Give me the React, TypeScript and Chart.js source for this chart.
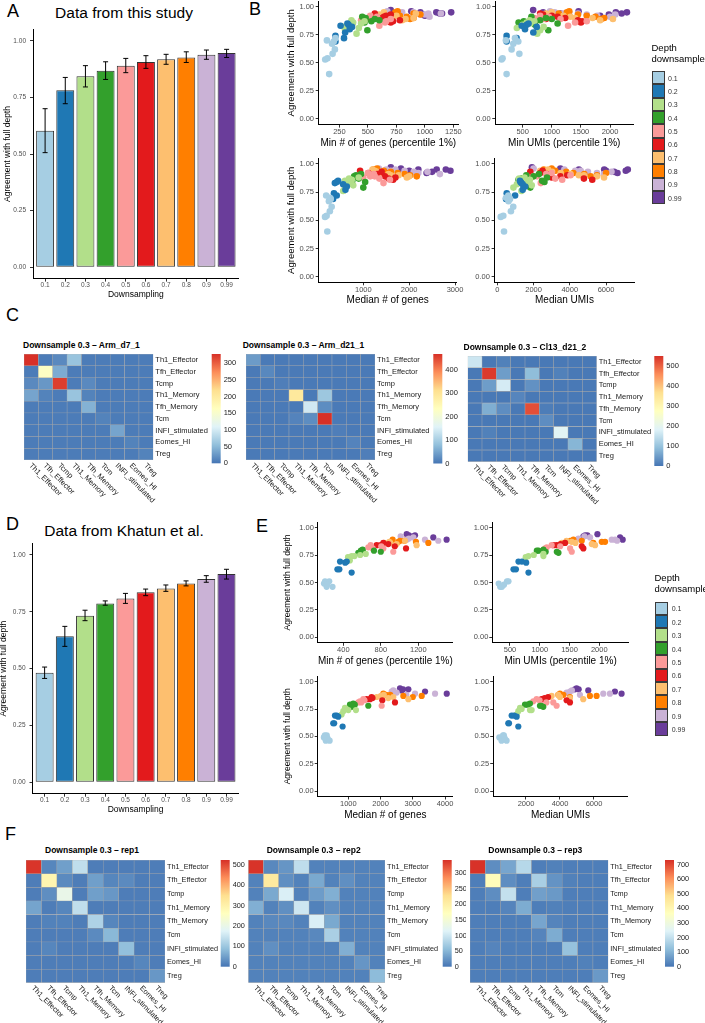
import React, { useEffect, useRef } from 'react';
import { Chart, registerables } from 'chart.js';
Chart.register(...registerables);

const FONT = '"Liberation Sans", Arial, Helvetica, sans-serif';
Chart.defaults.font.family = FONT;

// ---------------- data ----------------
const depthLabels = ['0.1', '0.2', '0.3', '0.4', '0.5', '0.6', '0.7', '0.8', '0.9', '0.99'];
const depthColors = ['#A6CEE3', '#1F78B4', '#B2DF8A', '#33A02C', '#FB9A99', '#E31A1C', '#FDBF6F', '#FF7F00', '#CAB2D6', '#6A3D9A'];
const yTicks = [0, 0.25, 0.5, 0.75, 1];

const studyMean = [0.603, 0.781, 0.843, 0.868, 0.890, 0.906, 0.918, 0.926, 0.938, 0.946];
const studyLow = [0.506, 0.722, 0.796, 0.829, 0.859, 0.878, 0.896, 0.904, 0.918, 0.926];
const studyHigh = [0.700, 0.838, 0.890, 0.907, 0.922, 0.934, 0.940, 0.951, 0.959, 0.962];

const khatunMean = [0.482, 0.642, 0.733, 0.787, 0.808, 0.836, 0.853, 0.875, 0.894, 0.916];
const khatunLow = [0.457, 0.598, 0.711, 0.779, 0.787, 0.821, 0.840, 0.864, 0.880, 0.894];
const khatunHigh = [0.507, 0.686, 0.757, 0.798, 0.831, 0.850, 0.868, 0.886, 0.909, 0.937];

// Panel B (this study): agreement per sample and its four depth metrics
const bAgree = [
  [0.40, 0.53, 0.54, 0.58, 0.62, 0.67, 0.69, 0.70, 0.72],
  [0.69, 0.72, 0.74, 0.77, 0.80, 0.83, 0.84, 0.85, 0.82],
  [0.76, 0.79, 0.82, 0.84, 0.86, 0.88, 0.81, 0.85, 0.87],
  [0.79, 0.85, 0.86, 0.87, 0.88, 0.90, 0.91, 0.84, 0.89],
  [0.83, 0.86, 0.88, 0.89, 0.90, 0.91, 0.92, 0.87, 0.89],
  [0.86, 0.87, 0.89, 0.90, 0.91, 0.92, 0.93, 0.88, 0.94],
  [0.88, 0.89, 0.90, 0.91, 0.92, 0.93, 0.94, 0.95, 0.90],
  [0.89, 0.90, 0.91, 0.92, 0.93, 0.94, 0.95, 0.96, 0.92],
  [0.91, 0.92, 0.93, 0.94, 0.95, 0.96, 0.95, 0.93, 0.94],
  [0.92, 0.93, 0.94, 0.95, 0.95, 0.96, 0.97, 0.94, 0.95],
];
const bMinGenes = [
  [160, 125, 145, 190, 210, 185, 200, 140, 215],
  [215, 290, 215, 300, 340, 260, 330, 320, 360],
  [400, 300, 290, 350, 370, 355, 420, 440, 470],
  [495, 360, 470, 530, 600, 480, 450, 360, 560],
  [600, 650, 440, 540, 470, 580, 520, 660, 700],
  [700, 720, 500, 600, 640, 660, 700, 780, 560],
  [800, 830, 680, 720, 750, 600, 920, 640, 900],
  [870, 900, 840, 780, 960, 900, 740, 760, 560],
  [1040, 900, 1000, 1030, 800, 670, 900, 960, 1140],
  [1000, 980, 1150, 1230, 1100, 880, 700, 1130, 960],
];
const bMinUMIs = [
  [224, 138, 155, 443, 310, 339, 425, 212, 368],
  [224, 396, 224, 683, 540, 483, 569, 600, 741],
  [750, 800, 860, 500, 570, 620, 400, 630, 700],
  [940, 1100, 430, 520, 800, 900, 650, 712, 1000],
  [1280, 1400, 740, 860, 700, 950, 800, 1600, 1150],
  [1500, 1520, 900, 1230, 1100, 1000, 850, 1450, 800],
  [1830, 2050, 1700, 1320, 1200, 950, 900, 1000, 1400],
  [1850, 1900, 1750, 1600, 1450, 1120, 1260, 1300, 1000],
  [2000, 1780, 1600, 1450, 1300, 970, 1050, 2090, 1200],
  [1830, 1980, 2200, 2290, 2100, 1460, 680, 1150, 850],
];
const bMedGenes = [
  [215, 165, 200, 270, 310, 250, 290, 270, 190],
  [340, 420, 360, 610, 640, 380, 420, 450, 560],
  [560, 600, 650, 700, 750, 900, 780, 600, 690],
  [1000, 760, 700, 900, 880, 840, 950, 1040, 800],
  [1440, 1580, 1000, 1150, 920, 1230, 1100, 1350, 1250],
  [1650, 1550, 1470, 1200, 1300, 1110, 1400, 1700, 930],
  [1950, 2000, 1770, 1550, 1400, 1300, 1250, 1200, 1600],
  [2165, 2020, 1900, 1750, 1600, 1450, 1220, 1300, 1500],
  [2670, 2200, 2100, 1900, 1700, 1340, 1500, 2400, 1600],
  [2380, 2500, 2900, 2600, 2200, 1820, 1600, 2000, 2800],
];
const bMedUMIs = [
  [370, 190, 330, 750, 880, 620, 700, 480, 610],
  [480, 980, 520, 1400, 1540, 1330, 1280, 1250, 1400],
  [1330, 890, 1080, 1650, 1800, 1500, 1900, 1360, 1200],
  [1820, 2470, 1170, 1350, 2740, 1600, 2300, 2600, 2000],
  [2400, 3580, 1730, 2000, 4040, 2700, 3000, 3200, 2200],
  [5240, 4780, 3480, 3860, 2740, 2370, 1820, 3000, 2500],
  [5890, 5500, 4780, 4040, 3500, 3020, 2370, 2800, 4500],
  [5150, 5500, 4800, 4200, 3800, 3200, 2560, 3000, 6000],
  [5890, 5500, 5000, 4600, 3700, 2000, 3000, 6300, 4300],
  [6630, 6450, 7090, 5900, 4500, 3480, 1910, 6000, 7200],
];

// Panel E (Khatun et al.)
const eAgree = [
  [0.49, 0.46, 0.51, 0.51, 0.46, 0.48],
  [0.62, 0.62, 0.69, 0.69, 0.59, 0.68],
  [0.70, 0.73, 0.74, 0.75, 0.76, 0.74],
  [0.77, 0.79, 0.80, 0.79, 0.78, 0.78],
  [0.82, 0.84, 0.81, 0.81, 0.78, 0.83],
  [0.84, 0.84, 0.86, 0.83, 0.81, 0.85],
  [0.86, 0.87, 0.85, 0.88, 0.84, 0.86],
  [0.89, 0.87, 0.88, 0.87, 0.86, 0.88],
  [0.92, 0.89, 0.91, 0.89, 0.88, 0.90],
  [0.94, 0.92, 0.93, 0.91, 0.89, 0.93],
];
const eMinGenes = [
  [194, 222, 250, 205, 285, 227],
  [337, 358, 365, 437, 489, 420],
  [470, 450, 490, 580, 640, 520],
  [560, 588, 606, 727, 800, 610],
  [667, 692, 713, 827, 933, 805],
  [756, 798, 827, 949, 1069, 880],
  [838, 891, 969, 1058, 1182, 900],
  [926, 987, 1005, 1175, 1307, 1050],
  [1012, 1076, 1147, 1271, 1413, 1100],
  [1076, 1147, 1165, 1360, 1502, 1100],
];
const eMinUMIs = [
  [310, 365, 450, 475, 335, 400],
  [559, 600, 643, 700, 811, 772],
  [755, 764, 811, 900, 1062, 1062],
  [1315, 979, 1062, 951, 1287, 1100],
  [1119, 1200, 1091, 1510, 1538, 1343],
  [1230, 1287, 1426, 1706, 1733, 1350],
  [1371, 1538, 1874, 1450, 1930, 1600],
  [1566, 2042, 1510, 2098, 1900, 1706],
  [1750, 2266, 1846, 2210, 2300, 1650],
  [1969, 1734, 1762, 2349, 2394, 1800],
];
const eMedGenes = [
  [240, 300, 330, 270, 420, 360],
  [531, 560, 584, 640, 822, 687],
  [791, 843, 1236, 937, 895, 1000],
  [1101, 1050, 1153, 1200, 1619, 1130],
  [1360, 1463, 1308, 1400, 2034, 1500],
  [1567, 1670, 1722, 2053, 2447, 1750],
  [1878, 2013, 2240, 2100, 2862, 2395],
  [2085, 2706, 2168, 3276, 3000, 2300],
  [2395, 3069, 2344, 3690, 2800, 2500],
  [2603, 2654, 2862, 3380, 4053, 2700],
];
const eMedUMIs = [
  [430, 560, 650, 700, 860, 760],
  [960, 1000, 1157, 1300, 1548, 1451],
  [1451, 1548, 2332, 1744, 1650, 2234],
  [3018, 1940, 2234, 2100, 2822, 2900],
  [2430, 2626, 3606, 3200, 3802, 2800],
  [2920, 3018, 3300, 4390, 4586, 3100],
  [3410, 3508, 4586, 3900, 5370, 4000],
  [3998, 5762, 3900, 6154, 4586, 4200],
  [4700, 6546, 4586, 6938, 5174, 4390],
  [4978, 5664, 4880, 7232, 7624, 5100],
];

// Heatmaps
const cellTypes = ['Th1_Effector', 'Tfh_Effector', 'Tcmp', 'Th1_Memory', 'Tfh_Memory', 'Tcm', 'INFI_stimulated', 'Eomes_HI', 'Treg'];
const hmArmD7 = [
  [330, 5, 15, 60, 5, 5, 5, 5, 5],
  [5, 160, 40, 5, 5, 5, 5, 5, 5],
  [15, 25, 320, 5, 15, 5, 5, 5, 5],
  [35, 10, 5, 60, 10, 5, 5, 5, 5],
  [5, 5, 5, 5, 45, 5, 5, 5, 5],
  [5, 5, 5, 5, 5, 10, 5, 5, 5],
  [5, 5, 5, 5, 5, 5, 35, 5, 5],
  [5, 5, 5, 5, 5, 5, 5, 10, 5],
  [5, 5, 5, 5, 5, 5, 5, 5, 10],
];
const hmArmD21 = [
  [40, 5, 5, 5, 5, 5, 5, 5, 5],
  [5, 20, 5, 5, 5, 5, 5, 5, 5],
  [5, 5, 10, 5, 5, 5, 5, 5, 5],
  [5, 5, 5, 290, 5, 90, 5, 5, 5],
  [5, 5, 5, 5, 140, 25, 5, 5, 5],
  [5, 5, 5, 15, 25, 468, 5, 5, 5],
  [5, 5, 5, 5, 5, 5, 10, 5, 5],
  [5, 5, 5, 5, 5, 5, 5, 15, 5],
  [5, 5, 5, 5, 5, 5, 5, 5, 10],
];
const hmCl13 = [
  [160, 5, 15, 5, 5, 5, 5, 5, 5],
  [5, 540, 50, 5, 90, 5, 15, 5, 5],
  [5, 50, 170, 5, 35, 5, 5, 5, 5],
  [5, 5, 5, 20, 5, 5, 5, 5, 5],
  [5, 70, 30, 5, 520, 10, 5, 5, 5],
  [5, 5, 5, 5, 5, 30, 5, 5, 5],
  [5, 15, 5, 5, 5, 5, 190, 5, 5],
  [5, 5, 5, 5, 5, 5, 5, 80, 5],
  [5, 5, 5, 5, 5, 5, 5, 5, 5],
];
const hmRep1 = [
  [520, 20, 50, 140, 10, 10, 10, 10, 10],
  [10, 290, 25, 10, 50, 20, 25, 10, 10],
  [10, 30, 200, 10, 50, 40, 10, 10, 10],
  [55, 10, 20, 140, 10, 10, 10, 10, 10],
  [10, 15, 15, 10, 120, 20, 10, 10, 10],
  [10, 10, 10, 10, 25, 80, 10, 10, 10],
  [10, 20, 10, 10, 10, 10, 90, 10, 10],
  [10, 10, 10, 10, 10, 10, 10, 20, 10],
  [10, 10, 10, 10, 10, 10, 10, 10, 40],
];
const hmRep2 = [
  [340, 15, 25, 90, 10, 10, 10, 10, 10],
  [10, 210, 20, 10, 40, 10, 20, 10, 10],
  [10, 40, 110, 10, 30, 45, 10, 10, 10],
  [45, 10, 20, 100, 10, 20, 10, 10, 10],
  [10, 15, 15, 10, 110, 40, 10, 10, 10],
  [10, 10, 10, 10, 15, 75, 10, 10, 10],
  [10, 20, 10, 10, 10, 10, 45, 10, 10],
  [10, 10, 10, 10, 10, 10, 10, 25, 10],
  [10, 10, 10, 10, 10, 10, 10, 10, 55],
];
const hmRep3 = [
  [730, 40, 80, 180, 15, 20, 15, 15, 15],
  [15, 380, 40, 15, 160, 50, 20, 15, 15],
  [15, 40, 200, 15, 70, 60, 15, 15, 15],
  [15, 15, 25, 90, 15, 20, 15, 15, 15],
  [15, 15, 15, 15, 80, 25, 15, 15, 15],
  [15, 15, 15, 15, 25, 90, 15, 15, 15],
  [15, 25, 15, 15, 15, 15, 130, 15, 15],
  [15, 15, 15, 15, 15, 15, 15, 20, 15],
  [15, 15, 15, 15, 15, 15, 15, 15, 60],
];
const cbTicksC1 = [0, 50, 100, 150, 200, 250, 300];
const cbTicksC2 = [0, 100, 200, 300, 400];
const cbTicksC3 = [0, 100, 200, 300, 400, 500];
const cbTicksF1 = [0, 100, 200, 300, 400, 500];
const cbTicksF2 = [0, 50, 100, 150, 200, 250, 300];
const cbTicksF3 = [0, 100, 200, 300, 400, 500, 600, 700];

// ---------------- helpers ----------------
const ramp = ['#4575B4', '#91BFDB', '#E0F3F8', '#FFFFBF', '#FEE090', '#FC8D59', '#D73027'];
function rgb(h: string) {
  return [parseInt(h.slice(1, 3), 16), parseInt(h.slice(3, 5), 16), parseInt(h.slice(5, 7), 16)];
}
function heatColor(t: number) {
  const tt = Math.max(0, Math.min(1, t));
  const s = tt * 6;
  const i = Math.min(5, Math.floor(s));
  const f = s - i;
  const a = rgb(ramp[i]);
  const b = rgb(ramp[i + 1]);
  const c = a.map((v, k) => Math.round(v + (b[k] - v) * f));
  return `rgb(${c[0]},${c[1]},${c[2]})`;
}

type Box = { x: number; y: number; w: number; h: number };
type Rect = { l: number; t: number; r: number; b: number };

function ChartBox({ box, make }: { box: Box; make: () => any }) {
  const ref = useRef<HTMLCanvasElement>(null);
  useEffect(() => {
    const c = new Chart(ref.current as HTMLCanvasElement, make());
    return () => c.destroy();
  }, []);
  return (
    <canvas
      ref={ref}
      width={box.w}
      height={box.h}
      style={{ position: 'absolute', left: box.x, top: box.y, width: box.w, height: box.h }}
    />
  );
}

function Txt({ x, y, s, children, anchor = 'start', bold = false, color = '#000' }: any) {
  const tx = anchor === 'middle' ? '-50%' : anchor === 'end' ? '-100%' : '0';
  return (
    <div
      style={{
        position: 'absolute', left: x, top: y, transform: `translate(${tx},-50%)`, fontSize: s, lineHeight: 1,
        whiteSpace: 'nowrap', fontFamily: FONT, fontWeight: bold ? 'bold' : 'normal', color,
      }}
    >
      {children}
    </div>
  );
}

const TICK_COL = '#4D4D4D';

function axisCommon(tickSize: number, pad: number, title: string | null, titleSize: number) {
  return {
    ticks: { font: { size: tickSize }, color: TICK_COL, padding: pad, autoSkip: false, maxRotation: 0, minRotation: 0 },
    grid: { display: true, drawOnChartArea: false, drawTicks: true, tickLength: 3, color: '#333', tickColor: '#333', offset: false },
    border: { display: true, color: '#000', width: 1 },
    title: { display: !!title, text: title || '', font: { size: titleSize }, color: '#000', padding: 0 },
  };
}

function baseOptions(box: Box, plot: Rect) {
  return {
    responsive: false,
    maintainAspectRatio: false,
    animation: false,
    events: [],
    layout: {
      autoPadding: false,
      padding: { left: 0, top: plot.t - box.y, right: box.x + box.w - plot.r, bottom: 0 },
    },
    plugins: { legend: { display: false }, tooltip: { enabled: false } },
  };
}

function yScale(box: Box, plot: Rect, tickSize: number, pad: number, title: string | null, titleSize: number) {
  const c: any = axisCommon(tickSize, pad, title, titleSize);
  return {
    type: 'linear', min: -0.05, max: 1.05,
    afterBuildTicks: (s: any) => { s.ticks = yTicks.map((v) => ({ value: v })); },
    afterFit: (s: any) => { s.width = plot.l - box.x; },
    ...c,
    ticks: { ...c.ticks, callback: (v: any) => Number(v).toFixed(2) },
  };
}

function barConfig(box: Box, plot: Rect, means: number[], lows: number[], highs: number[]) {
  const errPlugin = {
    id: 'errbars',
    afterDatasetsDraw(chart: any) {
      const { ctx } = chart;
      const x = chart.scales.x;
      const y = chart.scales.y;
      ctx.save();
      ctx.strokeStyle = '#000';
      ctx.lineWidth = 1;
      lows.forEach((lo, i) => {
        const px = x.getPixelForValue(i);
        const pl = y.getPixelForValue(lo);
        const ph = y.getPixelForValue(highs[i]);
        ctx.beginPath();
        ctx.moveTo(px, pl); ctx.lineTo(px, ph);
        ctx.moveTo(px - 2.5, pl); ctx.lineTo(px + 2.5, pl);
        ctx.moveTo(px - 2.5, ph); ctx.lineTo(px + 2.5, ph);
        ctx.stroke();
      });
      ctx.restore();
    },
  };
  const xc: any = axisCommon(6.5, 0, 'Downsampling', 8.5);
  return {
    type: 'bar',
    data: {
      datasets: [{
        data: means.map((v, i) => ({ x: i, y: v })),
        backgroundColor: depthColors,
        borderColor: '#333',
        borderWidth: 1,
        borderSkipped: false,
        categoryPercentage: 1,
        barPercentage: 0.89,
      }],
    },
    options: {
      ...baseOptions(box, plot),
      scales: {
        x: {
          type: 'linear', min: -0.6, max: 9.6, offset: false,
          afterBuildTicks: (s: any) => { s.ticks = depthLabels.map((_, i) => ({ value: i })); },
          afterFit: (s: any) => { s.height = box.y + box.h - plot.b; },
          ...xc,
          ticks: { ...xc.ticks, callback: (v: any) => depthLabels[Math.round(v)] },
        },
        y: yScale(box, plot, 6.5, 4, 'Agreement with full depth', 8.5),
      },
    },
    plugins: [errPlugin],
  };
}

function scatterConfig(
  box: Box, plot: Rect, xs: number[][], ys: number[][], xmin: number, xmax: number, xt: number[],
  xTitle: string, yTitle: string | null, yTitleSize: number, radius: number, yPad: number,
) {
  const xc: any = axisCommon(7.5, 0, xTitle, 10);
  return {
    type: 'scatter',
    data: {
      datasets: xs.map((arr, d) => ({
        label: depthLabels[d],
        data: arr.map((x, i) => ({ x, y: ys[d][i] })),
        backgroundColor: depthColors[d],
        borderWidth: 0,
        pointRadius: radius,
        pointHoverRadius: radius,
      })),
    },
    options: {
      ...baseOptions(box, plot),
      scales: {
        x: {
          type: 'linear', min: xmin, max: xmax,
          afterBuildTicks: (s: any) => { s.ticks = xt.map((v) => ({ value: v })); },
          afterFit: (s: any) => { s.height = box.y + box.h - plot.b; },
          ...xc,
          ticks: { ...xc.ticks, callback: (v: any) => String(v) },
        },
        y: yScale(box, plot, 7.5, yPad, yTitle, yTitleSize),
      },
    },
  };
}

function heatConfig(box: Box, cells: Rect, matrix: number[][], cmax: number, cb: Rect, cbTicks: number[], fs: number) {
  const extras = {
    id: 'heatExtras',
    afterDraw(chart: any) {
      const { ctx } = chart;
      const x = chart.scales.x;
      const area = chart.chartArea;
      ctx.save();
      ctx.fillStyle = '#1a1a1a';
      ctx.font = `${fs}px ${FONT}`;
      ctx.textAlign = 'left';
      ctx.textBaseline = 'middle';
      cellTypes.forEach((lab, i) => {
        const px = x.getPixelForValue(i);
        ctx.save();
        ctx.translate(px - 1, area.bottom + 4.5);
        ctx.rotate(Math.PI / 4);
        ctx.fillText(lab, 0, 0);
        ctx.restore();
      });
      const l = cb.l - box.x, r = cb.r - box.x, t = cb.t - box.y, b = cb.b - box.y;
      const g = ctx.createLinearGradient(0, b, 0, t);
      ramp.forEach((c, i) => g.addColorStop(i / 6, c));
      ctx.fillStyle = g;
      ctx.fillRect(l, t, r - l, b - t);
      ctx.fillStyle = '#1a1a1a';
      cbTicks.forEach((v) => {
        const py = b - (v / cmax) * (b - t);
        ctx.fillText(String(v), r + 3, py);
      });
      ctx.restore();
    },
  };
  return {
    type: 'bar',
    data: {
      labels: cellTypes,
      datasets: matrix.map((row, r) => ({
        data: row.map(() => [r, r + 1]),
        backgroundColor: row.map((v) => heatColor(v / cmax)),
        borderColor: '#A8A8A8',
        borderWidth: 0.5,
        borderSkipped: false,
        grouped: false,
        barPercentage: 1,
        categoryPercentage: 1,
      })),
    },
    options: {
      responsive: false,
      maintainAspectRatio: false,
      animation: false,
      events: [],
      layout: {
        autoPadding: false,
        padding: { left: cells.l - box.x, top: cells.t - box.y, right: 0, bottom: box.y + box.h - cells.b },
      },
      plugins: { legend: { display: false }, tooltip: { enabled: false } },
      scales: {
        x: { type: 'category', display: false, offset: true },
        y: {
          type: 'linear', position: 'right', min: 0, max: 9, reverse: true,
          afterBuildTicks: (s: any) => { s.ticks = cellTypes.map((_, i) => ({ value: i + 0.5 })); },
          afterFit: (s: any) => { s.width = box.x + box.w - cells.r; },
          ticks: { callback: (v: any) => cellTypes[Math.floor(v)], font: { size: fs }, color: '#1a1a1a', padding: 2, autoSkip: false },
          grid: { display: false, drawTicks: false },
          border: { display: false },
        },
      },
    },
    plugins: [extras],
  };
}

function DepthLegend({ x, y1, y2, keyTop, step, labelX }: any) {
  return (
    <>
      <Txt x={x} y={y1} s={9.5}>Depth</Txt>
      <Txt x={x} y={y2} s={9.5}>downsample</Txt>
      {depthLabels.map((lab, i) => (
        <React.Fragment key={lab}>
          <div
            style={{
              position: 'absolute', left: x + 0.5, top: keyTop + i * step, width: 12.5, height: step,
              background: depthColors[i], border: '1px solid #3a3a3a', boxSizing: 'border-box',
            }}
          />
          <Txt x={labelX} y={keyTop + i * step + step / 2} s={7} color="#333">{lab}</Txt>
        </React.Fragment>
      ))}
    </>
  );
}

// ---------------- layout ----------------
const boxA: Box = { x: 3, y: 0, w: 245, h: 300 };
const plotA: Rect = { l: 33, t: 29.4, r: 238.7, b: 278.6 };
const boxD: Box = { x: -1, y: 520, w: 249, h: 295 };
const plotD: Rect = { l: 32.5, t: 543.6, r: 238.6, b: 793.7 };

const heatPanels = [
  { title: 'Downsample 0.3 \u2013 Arm_d7_1', tx: 23, ty: 345, m: hmArmD7, cmax: 328, ticks: cbTicksC1, fs: 7.5,
    box: { x: 20, y: 346, w: 218, h: 160 }, cells: { l: 24, t: 354, r: 153.3, b: 460 }, cb: { l: 211.7, r: 220.7, t: 354, b: 463.3 } },
  { title: 'Downsample 0.3 \u2013 Arm_d21_1', tx: 242.7, ty: 345, m: hmArmD21, cmax: 468, ticks: cbTicksC2, fs: 7.5,
    box: { x: 242, y: 346, w: 220, h: 160 }, cells: { l: 246, t: 354, r: 375, b: 460 }, cb: { l: 433.3, r: 442.3, t: 354, b: 463.5 } },
  { title: 'Downsample 0.3 \u2013 Cl13_d21_2', tx: 463.5, ty: 347.3, m: hmCl13, cmax: 550, ticks: cbTicksC3, fs: 7.5,
    box: { x: 463, y: 348, w: 220, h: 160 }, cells: { l: 467.7, t: 356, r: 596.7, b: 461.7 }, cb: { l: 654.3, r: 663.3, t: 356, b: 466 } },
  { title: 'Downsample 0.3 \u2013 rep1', tx: 45, ty: 849.5, m: hmRep1, cmax: 525, ticks: cbTicksF1, fs: 7.3,
    box: { x: 22, y: 852, w: 225, h: 171 }, cells: { l: 26, t: 860, r: 165, b: 982.7 }, cb: { l: 220.7, r: 229.7, t: 860, b: 966.7 } },
  { title: 'Downsample 0.3 \u2013 rep2', tx: 266.7, ty: 849.5, m: hmRep2, cmax: 342, ticks: cbTicksF2, fs: 7.3,
    box: { x: 244, y: 852, w: 222, h: 171 }, cells: { l: 248.3, t: 860, r: 385, b: 982.7 }, cb: { l: 442.7, r: 451.7, t: 860, b: 966.7 } },
  { title: 'Downsample 0.3 \u2013 rep3', tx: 488.3, ty: 849.5, m: hmRep3, cmax: 733, ticks: cbTicksF3, fs: 7.3,
    box: { x: 466, y: 852, w: 230, h: 171 }, cells: { l: 470, t: 860, r: 608.3, b: 982.7 }, cb: { l: 665, r: 674, t: 860, b: 966.7 } },
];

const AG = 'Agreement with full depth';
const scatterPanels = [
  { box: { x: 286, y: -9, w: 184, h: 158 }, plot: { l: 318.7, t: 1.1, r: 458, b: 124.6 }, xs: bMinGenes, ys: bAgree,
    min: 68, max: 1290, xt: [250, 500, 750, 1000, 1250], xl: 'Min # of genes (percentile 1%)', yl: AG, yls: 9.5, rad: 3.3, yp: 1.7 },
  { box: { x: 463, y: -9, w: 182, h: 158 }, plot: { l: 495.3, t: 1.1, r: 633.2, b: 124.6 }, xs: bMinUMIs, ys: bAgree,
    min: 30, max: 2398, xt: [500, 1000, 1500, 2000], xl: 'Min UMIs (percentile 1%)', yl: null, yls: 9.5, rad: 3.3, yp: 1.7 },
  { box: { x: 286, y: 148, w: 183, h: 158 }, plot: { l: 318.7, t: 158.3, r: 456.7, b: 282.3 }, xs: bMedGenes, ys: bAgree,
    min: 27, max: 3037, xt: [1000, 2000, 3000], xl: 'Median # of genes', yl: AG, yls: 9.5, rad: 3.3, yp: 1.7 },
  { box: { x: 463, y: 148, w: 184, h: 158 }, plot: { l: 494.6, t: 158.3, r: 634.3, b: 282.3 }, xs: bMedUMIs, ys: bAgree,
    min: -150, max: 7560, xt: [0, 2000, 4000, 6000], xl: 'Median UMIs', yl: null, yls: 9.5, rad: 3.3, yp: 1.7 },
  { box: { x: 283, y: 512, w: 182, h: 155 }, plot: { l: 317.9, t: 522.1, r: 452.7, b: 642.8 }, xs: eMinGenes, ys: eAgree,
    min: 129, max: 1567, xt: [400, 800, 1200], xl: 'Min # of genes (percentile 1%)', yl: AG, yls: 8.5, rad: 3.1, yp: 1 },
  { box: { x: 460, y: 512, w: 181, h: 155 }, plot: { l: 492.3, t: 522.1, r: 628.9, b: 642.8 }, xs: eMinUMIs, ys: eAgree,
    min: 203, max: 2498, xt: [500, 1000, 1500, 2000], xl: 'Min UMIs (percentile 1%)', yl: null, yls: 8.5, rad: 3.1, yp: 1 },
  { box: { x: 283, y: 666, w: 182, h: 155 }, plot: { l: 317.7, t: 676.2, r: 452.9, b: 796.5 }, xs: eMedGenes, ys: eAgree,
    min: 49, max: 4244, xt: [1000, 2000, 3000, 4000], xl: 'Median # of genes', yl: AG, yls: 8.5, rad: 3.1, yp: 1 },
  { box: { x: 460, y: 666, w: 180, h: 155 }, plot: { l: 493.2, t: 676.2, r: 627.7, b: 796.5 }, xs: eMedUMIs, ys: eAgree,
    min: 71, max: 7984, xt: [2000, 4000, 6000], xl: 'Median UMIs', yl: null, yls: 8.5, rad: 3.1, yp: 1 },
];

export default function App() {
  return (
    <div style={{ position: 'absolute', left: 0, top: 0, width: 705, height: 1023, overflow: 'hidden', background: '#fff', fontFamily: FONT }}>
      {/* panel letters */}
      <Txt x={7} y={11} s={18}>A</Txt>
      <Txt x={249} y={9} s={18}>B</Txt>
      <Txt x={6} y={315} s={18}>C</Txt>
      <Txt x={6} y={524} s={18}>D</Txt>
      <Txt x={256} y={526} s={18}>E</Txt>
      <Txt x={5} y={834} s={18}>F</Txt>

      <Txt x={124} y={13} s={15.5} anchor="middle">Data from this study</Txt>
      <Txt x={124} y={531} s={15.5} anchor="middle">Data from Khatun et al.</Txt>

      <ChartBox box={boxA} make={() => barConfig(boxA, plotA, studyMean, studyLow, studyHigh)} />
      <ChartBox box={boxD} make={() => barConfig(boxD, plotD, khatunMean, khatunLow, khatunHigh)} />

      {scatterPanels.map((p, i) => (
        <ChartBox
          key={'s' + i}
          box={p.box}
          make={() => scatterConfig(p.box, p.plot, p.xs, p.ys, p.min, p.max, p.xt, p.xl, p.yl, p.yls, p.rad, p.yp)}
        />
      ))}

      <DepthLegend x={651.5} y1={48} y2={58.5} keyTop={71} step={13.35} labelX={668} />
      <DepthLegend x={654.5} y1={578.3} y2={589} keyTop={601.6} step={13.4} labelX={671.7} />

      {heatPanels.map((h, i) => (
        <React.Fragment key={'h' + i}>
          <Txt x={h.tx} y={h.ty} s={8.5} bold>{h.title}</Txt>
          <ChartBox box={h.box} make={() => heatConfig(h.box, h.cells, h.m, h.cmax, h.cb, h.ticks, h.fs)} />
        </React.Fragment>
      ))}
    </div>
  );
}
